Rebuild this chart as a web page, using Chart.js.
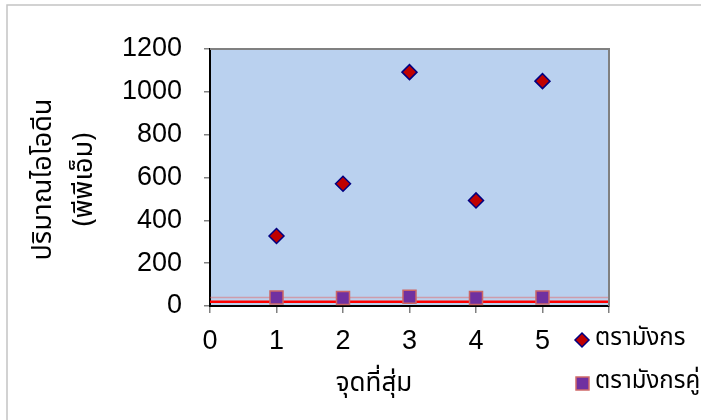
<!DOCTYPE html>
<html>
<head>
<meta charset="utf-8">
<script src="https://cdn.jsdelivr.net/npm/chart.js@4.4.1/dist/chart.umd.min.js"></script>
<style>
  html, body { margin: 0; padding: 0; background: #ffffff; }
  #wrap { position: relative; width: 701px; height: 420px; }
  canvas { display: block; }
</style>
</head>
<body>
<div id="wrap"><canvas id="c" width="701" height="420"></canvas></div>
<script>
// ---- data ----
const categories = [1, 2, 3, 4, 5];
const seriesNames = ['ตรามังกร', 'ตรามังกรคู่'];
const dragonValues = [327, 571, 1092, 493, 1050];
const dragonPairValues = [40, 37, 43, 37, 40];
const limitLow = 20;
const limitHigh = 40;
const xRange = [0, 6];
const xTickLabels = ['0', '1', '2', '3', '4', '5', ''];
const yTicks = [0, 200, 400, 600, 800, 1000, 1200];
const xTitle = 'จุดที่สุ่ม';
const yTitleLines = ['ปริมาณไอโอดีน', '(พีพีเอ็ม)'];

const NUM_FONT = "'Liberation Sans', Arial, sans-serif";
const THAI_FONT = "'Noto Sans Thai', 'Loma', 'Garuda', 'Liberation Sans', sans-serif";

const pts = (xs, ys) => xs.map((x, i) => ({ x: x, y: ys[i] }));

const decor = {
  id: 'decor',
  beforeDraw(chart) {
    const { ctx, chartArea: a } = chart;
    ctx.save();
    ctx.fillStyle = '#bad1ef';
    ctx.fillRect(a.left, a.top, a.right - a.left, a.bottom - a.top);
    ctx.strokeStyle = '#c4c4c4';
    ctx.lineWidth = 1.5;
    ctx.beginPath();
    ctx.moveTo(7, 420); ctx.lineTo(7, 5); ctx.lineTo(701, 5);
    ctx.stroke();
    ctx.restore();
  },
  afterDraw(chart) {
    const { ctx, chartArea: a } = chart;
    ctx.save();
    ctx.strokeStyle = '#808080';
    ctx.lineWidth = 2;
    ctx.beginPath();
    ctx.moveTo(a.left, a.top); ctx.lineTo(a.right, a.top); ctx.lineTo(a.right, a.bottom);
    ctx.stroke();
    ctx.fillStyle = '#000';
    ctx.textAlign = 'center';
    ctx.textBaseline = 'middle';
    ctx.font = '26px ' + THAI_FONT;
    ctx.fillText(xTitle, 374, 386);
    ctx.font = '27px ' + THAI_FONT;
    const cy = (a.top + a.bottom) / 2 + 2;
    const xs = [46, 87];
    yTitleLines.forEach((t, i) => {
      ctx.save();
      ctx.translate(xs[i], cy);
      ctx.rotate(-Math.PI / 2);
      ctx.fillText(t, 0, 0);
      ctx.restore();
    });
    ctx.font = '24px ' + THAI_FONT;
    ctx.textAlign = 'left';
    const dx = 582, dy = 340, r = 7;
    ctx.beginPath();
    ctx.moveTo(dx, dy - r); ctx.lineTo(dx + r, dy); ctx.lineTo(dx, dy + r); ctx.lineTo(dx - r, dy); ctx.closePath();
    ctx.fillStyle = '#c00000'; ctx.fill();
    ctx.strokeStyle = '#000080'; ctx.lineWidth = 1.5; ctx.stroke();
    ctx.fillStyle = '#000';
    ctx.fillText(seriesNames[0], 595, 340);
    ctx.fillStyle = '#7030a0';
    ctx.fillRect(576, 377, 13, 13);
    ctx.strokeStyle = '#d06a6a'; ctx.lineWidth = 1.5;
    ctx.strokeRect(576, 377, 13, 13);
    ctx.fillStyle = '#000';
    ctx.fillText(seriesNames[1], 595, 383);
    ctx.restore();
  }
};

new Chart(document.getElementById('c'), {
  type: 'scatter',
  data: {
    datasets: [
      {
        label: 'limitHigh',
        type: 'line',
        data: pts(xRange, [limitHigh, limitHigh]),
        borderColor: 'rgba(230,90,90,0.45)',
        borderWidth: 1.5,
        pointRadius: 0,
        order: 3
      },
      {
        label: 'limitLow',
        type: 'line',
        data: pts(xRange, [limitLow, limitLow]),
        borderColor: '#ff0000',
        borderWidth: 2.5,
        pointRadius: 0,
        order: 2
      },
      {
        label: seriesNames[1],
        data: pts(categories, dragonPairValues),
        pointStyle: 'rect',
        pointRadius: 9.2,
        backgroundColor: '#7030a0',
        borderColor: '#cc6666',
        borderWidth: 1.5,
        order: 1
      },
      {
        label: seriesNames[0],
        data: pts(categories, dragonValues),
        pointStyle: 'rectRot',
        pointRadius: 7.5,
        backgroundColor: '#c00000',
        borderColor: '#000080',
        borderWidth: 1.5,
        order: 0
      }
    ]
  },
  options: {
    responsive: false,
    devicePixelRatio: 1,
    animation: false,
    layout: { padding: { left: 0, top: 49, right: 92, bottom: 0 } },
    plugins: { legend: { display: false }, tooltip: { enabled: false } },
    scales: {
      x: {
        type: 'linear',
        min: xRange[0], max: xRange[1],
        ticks: {
          stepSize: 1, color: '#000', font: { family: NUM_FONT, size: 27 }, padding: 12,
          callback: (v) => xTickLabels[v]
        },
        grid: { drawOnChartArea: false, drawTicks: true, tickLength: 7, color: '#808080', lineWidth: 1.5 },
        border: { display: true, color: '#000', width: 2 },
        afterFit(s) { s.height = 114; }
      },
      y: {
        min: 0, max: 1200,
        afterBuildTicks(s) { s.ticks = yTicks.map(v => ({ value: v })); },
        ticks: { color: '#000', font: { family: NUM_FONT, size: 27 }, padding: 22, callback: (v) => String(v) },
        grid: { drawOnChartArea: false, drawTicks: true, tickLength: 6, color: '#808080', lineWidth: 1.5 },
        border: { display: true, color: '#000', width: 2 },
        afterFit(s) { s.width = 210; }
      }
    }
  },
  plugins: [decor]
});
</script>
</body>
</html>
